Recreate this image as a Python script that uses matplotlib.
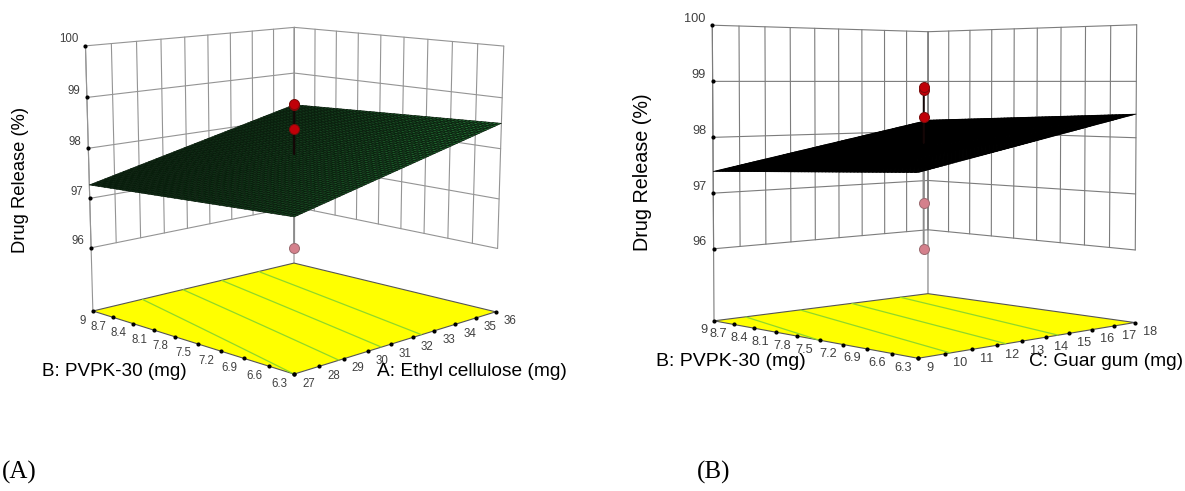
import numpy as np
import matplotlib
matplotlib.use('Agg')
import matplotlib.pyplot as plt
from matplotlib.collections import PolyCollection

plt.rcParams['font.family'] = ['Liberation Sans', 'DejaVu Sans']

# valores
z_ticks = [96, 97, 98, 99, 100]
z_floor = 94.7
b_ticks = [6.3, 6.6, 6.9, 7.2, 7.5, 7.8, 8.1, 8.4, 8.7, 9]
a_ticks = [27, 28, 29, 30, 31, 32, 33, 34, 35, 36]
c_ticks = [9, 10, 11, 12, 13, 14, 15, 16, 17, 18]

# respuesta en las esquinas: (x min, b min), (x max, b min), (x min, b max), (x max, b max)
surface_a = [97.50, 98.50, 97.27, 98.30]
surface_b = [97.59, 98.42, 97.39, 98.22]
points_a = [96.0, 98.38, 98.85, 98.88]
points_b = [96.0, 96.83, 98.37, 98.85, 98.90]
levels_a = [97.5, 97.7, 97.9, 98.1]
levels_b = [97.5, 97.7, 97.9, 98.1]

# esquinas de la caja en pixeles, para la perspectiva
corners_a = {(0, 1, 0): (92.7, 310.7), (0, 0, 0): (294.2, 374.3), (1, 0, 0): (495.5, 311.7),
             (1, 1, 0): (294.2, 263.3), (0, 1, 1): (85.5, 46.0), (1, 1, 1): (294.2, 27.3),
             (1, 0, 1): (503.8, 46.0)}
corners_b = {(0, 1, 0): (714.2, 321.0), (0, 0, 0): (917.7, 358.3), (1, 0, 0): (1135.0, 322.3),
             (1, 1, 0): (927.9, 293.7), (0, 1, 1): (712.4, 25.0), (1, 1, 1): (927.9, 31.7),
             (1, 0, 1): (1136.8, 25.0)}


def fit_camera(corners):
    rows = []
    rhs = []
    for (u, v, w), (px, py) in corners.items():
        rows.append([u, v, w, 1, 0, 0, 0, 0, -px * u, -px * v, -px * w])
        rows.append([0, 0, 0, 0, u, v, w, 1, -py * u, -py * v, -py * w])
        rhs += [px, py]
    sol = np.linalg.lstsq(np.array(rows, float), np.array(rhs, float), rcond=None)[0]
    return np.append(sol, 1).reshape(3, 4)


def draw_panel(ax, corners, x_ticks, surface, points, levels, cell_back, cell_front, cell_edge,
               tick_size, dot_size, grid_color):
    cam = fit_camera(corners)
    x0, x1 = x_ticks[0], x_ticks[-1]
    b0, b1 = b_ticks[0], b_ticks[-1]

    def proj(x, b, z):
        x, b, z = np.broadcast_arrays(np.asarray(x, float), np.asarray(b, float), np.asarray(z, float))
        u = (x - x0) / (x1 - x0)
        v = (b - b0) / (b1 - b0)
        w = (z - z_floor) / (100 - z_floor)
        h = np.stack([u, v, w, np.ones_like(u)])
        p = np.tensordot(cam, h, axes=(1, 0))
        return p[0] / p[2], p[1] / p[2]

    def seg(x, b, z, **kw):
        px, py = proj(x, b, z)
        ax.plot(px, py, solid_capstyle='round', **kw)

    grid = dict(color=grid_color, lw=0.8, zorder=1)

    # paredes
    for z in z_ticks:
        seg([x0, x1], [b1, b1], [z, z], **grid)
        seg([x1, x1], [b1, b0], [z, z], **grid)
    for x in x_ticks:
        seg([x, x], [b1, b1], [z_ticks[0], 100], **grid)
    for b in b_ticks:
        seg([x1, x1], [b, b], [z_ticks[0], 100], **grid)
    seg([x0, x0], [b1, b1], [z_floor, 100], **grid)
    seg([x1, x1], [b1, b1], [z_floor, 100], **grid)

    # piso amarillo con contornos
    px, py = proj([x0, x1, x1, x0], [b0, b0, b1, b1], [z_floor] * 4)
    ax.fill(px, py, facecolor='#ffff00', edgecolor='#555555', lw=0.8, zorder=2)

    gx, gb = np.meshgrid(np.linspace(x0, x1, 61), np.linspace(b0, b1, 61))
    s = (gx - x0) / (x1 - x0)
    t = (gb - b0) / (b1 - b0)
    gz = ((1 - s) * (1 - t) * surface[0] + s * (1 - t) * surface[1]
          + (1 - s) * t * surface[2] + s * t * surface[3])
    fx, fy = proj(gx, gb, z_floor)
    ax.contour(fx, fy, gz, levels=levels, colors='#8fd82a', linewidths=0.9, zorder=3)

    # marcas de los ejes
    tx, ty = proj([x0] * len(b_ticks), b_ticks, z_floor)
    ax.scatter(tx, ty, s=dot_size, c='black', linewidths=0, zorder=4)
    for x_, y_, lab in zip(tx, ty, b_ticks):
        ax.text(x_ - 6.6, y_ + 9.5, str(lab), ha='right', va='center', fontsize=tick_size,
                color='#404040', zorder=6)
    tx, ty = proj(x_ticks, [b0] * len(x_ticks), z_floor)
    ax.scatter(tx, ty, s=dot_size, c='black', linewidths=0, zorder=4)
    for x_, y_, lab in zip(tx, ty, x_ticks):
        ax.text(x_ + 8, y_ + 9.5, str(lab), ha='left', va='center', fontsize=tick_size,
                color='#404040', zorder=6)
    tx, ty = proj([x0] * len(z_ticks), [b1] * len(z_ticks), z_ticks)
    ax.scatter(tx, ty, s=dot_size, c='black', linewidths=0, zorder=4)
    for x_, y_, lab in zip(tx, ty, z_ticks):
        ax.text(x_ - 6.6, y_ - 6.5, str(lab), ha='right', va='center', fontsize=tick_size,
                color='#404040', zorder=6)

    # puntos del diseno, en el centro de la caja
    xc = (x0 + x1) / 2
    bc = (b0 + b1) / 2
    zc = sum(surface) / 4
    for z in points:
        px, py = proj(xc, bc, z)
        if z < zc:
            seg([xc, xc], [bc, bc], [z, zc], color='#8c8c8c', lw=1.4, zorder=5)
            ax.scatter(px, py, s=52, c='#d4808c', edgecolors='#9a6a70', linewidths=0.7, zorder=6)

    # superficie
    sx, sy = proj(gx, gb, gz)
    polys = []
    colors = []
    c_back = np.array(matplotlib.colors.to_rgb(cell_back))
    c_front = np.array(matplotlib.colors.to_rgb(cell_front))
    for i in range(60):
        for j in range(60):
            polys.append([(sx[i, j], sy[i, j]), (sx[i, j + 1], sy[i, j + 1]),
                          (sx[i + 1, j + 1], sy[i + 1, j + 1]), (sx[i + 1, j], sy[i + 1, j])])
            depth = 1 - (t[i, j] + (1 - s[i, j])) / 2
            colors.append(c_back + (c_front - c_back) * depth ** 1.5)
    ax.add_collection(PolyCollection(polys, facecolors=colors, edgecolors=cell_edge,
                                     linewidths=0.45, zorder=7))

    for z in points:
        if z >= zc:
            seg([xc, xc], [bc, bc], [z, zc], color='#140606', lw=1.2, zorder=8)
    for z in points:
        px, py = proj(xc, bc, z)
        if z >= zc:
            ax.scatter(px, py, s=52, c='#c00008', edgecolors='#7a0a0a', linewidths=0.7, zorder=9)


fig = plt.figure(figsize=(11.85, 4.91), dpi=100)
ax = fig.add_axes([0, 0, 1, 1])
ax.set_xlim(0, 1185)
ax.set_ylim(491, 0)
ax.axis('off')

draw_panel(ax, corners_a, a_ticks, surface_a, points_a, levels_a,
           '#0c2410', '#26803a', '#071a0a', 8.3, 9, '#949494')
draw_panel(ax, corners_b, c_ticks, surface_b, points_b, levels_b,
           '#000000', '#000000', '#000000', 9.2, 9, '#7c7c7c')

ax.text(20.8, 180, 'Drug Release (%)', rotation=90, ha='center', va='center', fontsize=13.2, zorder=10)
ax.text(42.4, 372, 'B: PVPK-30 (mg)', ha='left', va='center', fontsize=13.6, zorder=10)
ax.text(377, 372, 'A: Ethyl cellulose (mg)', ha='left', va='center', fontsize=13.8, zorder=10)
ax.text(642.5, 172, 'Drug Release (%)', rotation=90, ha='center', va='center', fontsize=14.2, zorder=10)
ax.text(656, 362, 'B: PVPK-30 (mg)', ha='left', va='center', fontsize=14, zorder=10)
ax.text(1029, 362, 'C: Guar gum (mg)', ha='left', va='center', fontsize=13.8, zorder=10)

ax.text(2, 472, '(A)', family='Liberation Serif', ha='left', va='center', fontsize=18)
ax.text(697, 472, '(B)', family='Liberation Serif', ha='left', va='center', fontsize=18)

fig.savefig('out.png', dpi=100)
